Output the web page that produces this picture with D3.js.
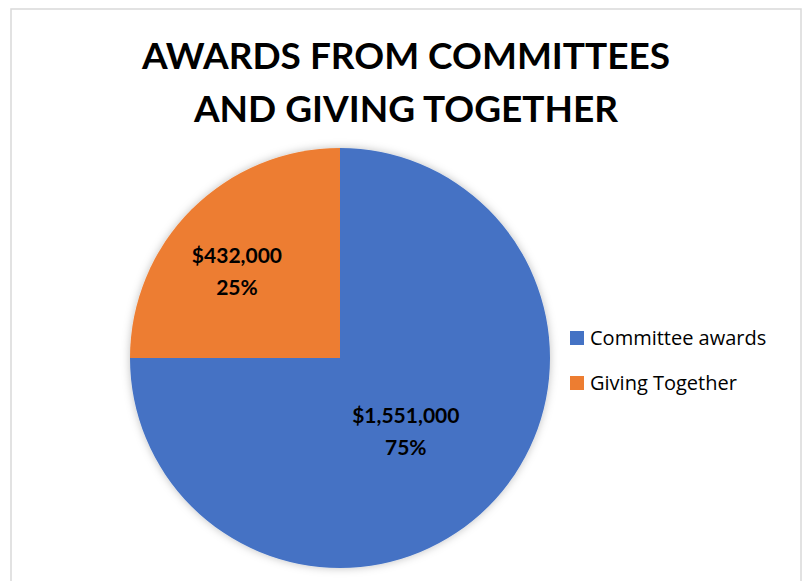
<!DOCTYPE html>
<html>
<head>
<meta charset="utf-8">
<script src="https://cdn.jsdelivr.net/npm/d3@7"></script>
<style>
  body { margin: 0; background: #fff; }
  svg { display: block; }
</style>
</head>
<body>
<div id="chart"></div>
<script>
// data
const categories = ["Committee awards", "Giving Together"];
const shares = [75, 25];
const amountLabels = ["$1,551,000", "$432,000"];
const titleLines = ["AWARDS FROM COMMITTEES", "AND GIVING TOGETHER"];

const settings = {
  width: 804,
  height: 581,
  cx: 340,
  cy: 358,
  radius: 210,
  colors: ["#4472C4", "#ED7D31"],
  labelFactor: [0.47, 0.64],
  labelNudge: [[-4, 3], [-8, 8]],
  font: "Lato, 'Open Sans', sans-serif",
};

function drawChart() {
  const svg = d3
    .select("#chart")
    .append("svg")
    .attr("width", settings.width)
    .attr("height", settings.height);

  // soft glow under the pie
  const filter = svg.append("defs").append("filter")
    .attr("id", "shadow")
    .attr("x", "-20%").attr("y", "-20%")
    .attr("width", "140%").attr("height", "140%");
  filter.append("feDropShadow")
    .attr("dx", 0).attr("dy", 0)
    .attr("stdDeviation", 4)
    .attr("flood-color", "#000")
    .attr("flood-opacity", 0.25);

  // chart frame
  svg.append("rect")
    .attr("x", 11).attr("y", 9)
    .attr("width", 790).attr("height", 600)
    .attr("fill", "none")
    .attr("stroke", "#d9d9d9")
    .attr("stroke-width", 1.5);

  // title
  svg.append("g")
    .selectAll("text")
    .data(titleLines)
    .join("text")
    .attr("x", 406)
    .attr("y", (d, i) => 69 + i * 53)
    .attr("text-anchor", "middle")
    .attr("font-family", settings.font)
    .attr("font-weight", "bold")
    .attr("font-size", "37px")
    .attr("fill", "#000")
    .text(d => d);

  const color = d3.scaleOrdinal().domain(categories).range(settings.colors);

  const pie = d3.pie().sort(null).value(d => d.share);
  const rows = categories.map((c, i) => ({ name: c, share: shares[i], amount: amountLabels[i] }));
  const arcs = pie(rows);

  const arc = d3.arc().innerRadius(0).outerRadius(settings.radius);

  const pieGroup = svg.append("g")
    .attr("transform", `translate(${settings.cx}, ${settings.cy})`);

  pieGroup.append("g")
    .attr("filter", "url(#shadow)")
    .selectAll("path")
    .data(arcs)
    .join("path")
    .attr("d", arc)
    .attr("fill", d => color(d.data.name));

  // data labels: amount + percent
  const labels = pieGroup.append("g")
    .selectAll("text")
    .data(arcs)
    .join("text")
    .attr("transform", (d, i) => {
      const r = settings.radius * settings.labelFactor[i];
      const a = (d.startAngle + d.endAngle) / 2;
      const [nx, ny] = settings.labelNudge[i];
      return `translate(${Math.sin(a) * r + nx}, ${-Math.cos(a) * r + ny})`;
    })
    .attr("text-anchor", "middle")
    .attr("font-family", settings.font)
    .attr("font-weight", "bold")
    .attr("font-size", "21px")
    .attr("fill", "#000");

  labels.append("tspan")
    .attr("x", 0)
    .attr("y", -8)
    .text(d => d.data.amount);
  labels.append("tspan")
    .attr("x", 0)
    .attr("y", 24)
    .text(d => d3.format(".0%")(d.data.share / d3.sum(shares)));

  // legend
  const legend = svg.append("g")
    .attr("transform", "translate(570, 331)");

  const item = legend.selectAll("g")
    .data(categories)
    .join("g")
    .attr("transform", (d, i) => `translate(0, ${i * 45})`);

  item.append("rect")
    .attr("width", 14)
    .attr("height", 14)
    .attr("fill", d => color(d));

  item.append("text")
    .attr("x", 20)
    .attr("y", 14)
    .attr("font-family", "'Open Sans', Lato, sans-serif")
    .attr("font-size", "20px")
    .attr("fill", "#000")
    .text(d => d);
}

drawChart();
</script>
</body>
</html>
